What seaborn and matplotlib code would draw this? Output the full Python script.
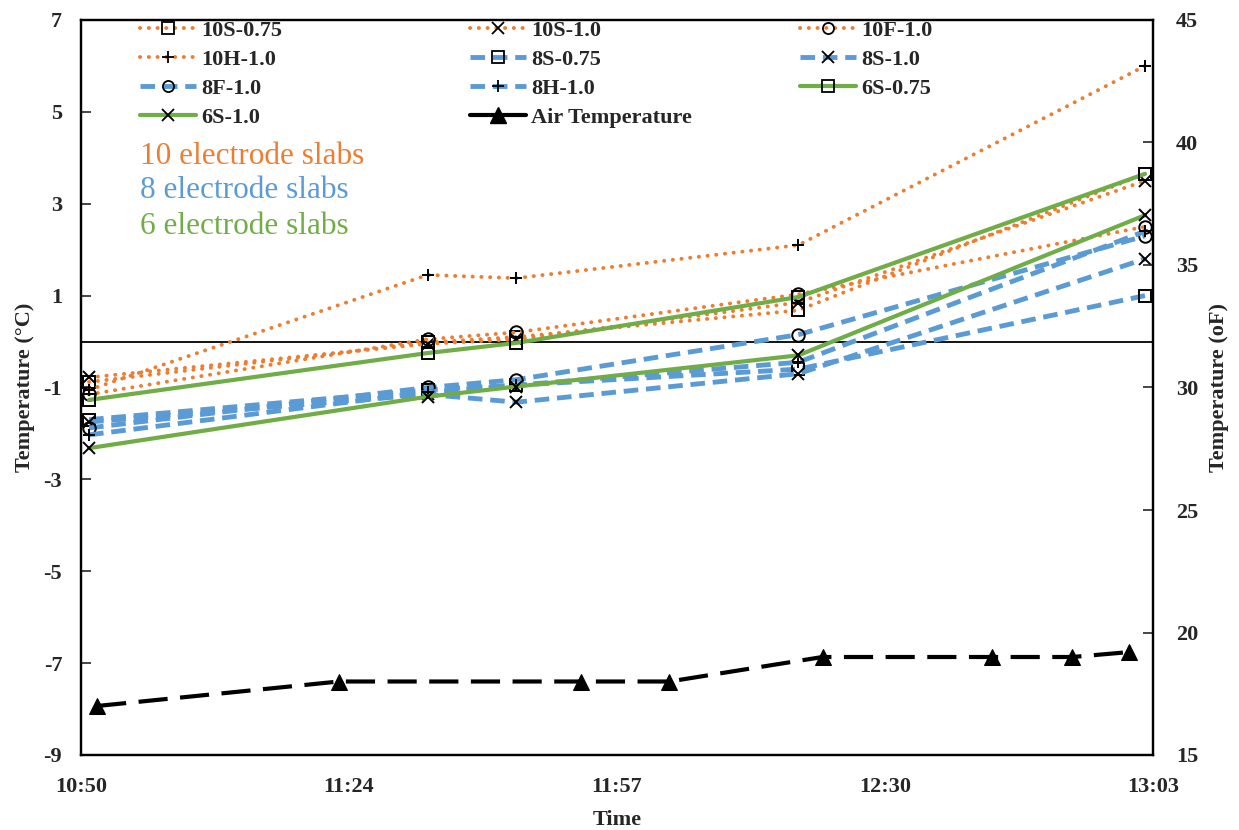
import numpy as np
import pandas as pd
import matplotlib
matplotlib.use("Agg")
import matplotlib.pyplot as plt
import seaborn as sns
from matplotlib.lines import Line2D

# ---------------- data ----------------
slab_times = ["10:51", "11:33", "11:44", "12:19", "13:02"]
air_times = ["10:52", "11:22", "11:52", "12:03", "12:22", "12:43", "12:53", "13:00"]

s10S_075 = [-0.88, -0.02, 0.10, 0.68, 3.65]
s10S_10 = [-0.78, -0.05, 0.05, 0.85, 3.50]
s10F_10 = [-1.15, 0.05, 0.20, 1.03, 2.50]
s10H_10 = [-1.05, 1.45, 1.38, 2.10, 6.00]
s8S_075 = [-1.70, -1.05, -0.95, -0.60, 1.00]
s8S_10 = [-1.75, -1.15, -1.32, -0.70, 1.80]
s8F_10 = [-1.88, -1.00, -0.83, 0.15, 2.30]
s8H_10 = [-2.03, -1.10, -0.95, -0.45, 2.40]
s6S_075 = [-1.27, -0.25, -0.03, 0.97, 3.65]
s6S_10 = [-2.32, -1.20, -0.98, -0.30, 2.75]
air_temp_F = [17.0, 18.0, 18.0, 18.0, 19.0, 19.0, 19.0, 19.2]

x_tick_labels = ["10:50", "11:24", "11:57", "12:30", "13:03"]
left_ticks = [-9, -7, -5, -3, -1, 1, 3, 5, 7]
right_ticks = [15, 20, 25, 30, 35, 40, 45]


def to_min(t):
    h, m = t.split(":")
    return (int(h) * 60 + int(m)) - (10 * 60 + 50)


series = [
    ("10S-0.75", s10S_075, "orange", "s"),
    ("10S-1.0", s10S_10, "orange", "x"),
    ("10F-1.0", s10F_10, "orange", "o"),
    ("10H-1.0", s10H_10, "orange", "+"),
    ("8S-0.75", s8S_075, "blue", "s"),
    ("8S-1.0", s8S_10, "blue", "x"),
    ("8F-1.0", s8F_10, "blue", "o"),
    ("8H-1.0", s8H_10, "blue", "+"),
    ("6S-0.75", s6S_075, "green", "s"),
    ("6S-1.0", s6S_10, "green", "x"),
]

rows = []
for name, vals, grp, mk in series:
    for t, v in zip(slab_times, vals):
        rows.append({"series": name, "minutes": to_min(t), "temp": v})
df = pd.DataFrame(rows)
air_df = pd.DataFrame({"minutes": [to_min(t) for t in air_times], "temp": air_temp_F})

# ---------------- style ----------------
sns.set_theme(style="white")
plt.rcParams["font.family"] = ["Liberation Serif", "DejaVu Serif"]
plt.rcParams["axes.unicode_minus"] = False

ORANGE = "#ED7D31"
BLUE = "#5B9BD5"
GREEN = "#70AD47"
grp_style = {
    "orange": dict(color=ORANGE, linestyle=(0, (0.05, 2.2)), linewidth=2.8, cap="round"),
    "blue": dict(color=BLUE, linestyle=(0, (3, 1.6)), linewidth=3.5, cap="butt"),
    "green": dict(color=GREEN, linestyle="-", linewidth=3.0, cap="butt"),
}

W, H = 1239, 830
fig = plt.figure(figsize=(W / 100, H / 100), dpi=100)
L, R, T, B = 81, 1153, 20, 755
ax = fig.add_axes([L / W, 1 - B / H, (R - L) / W, (B - T) / H])
ax2 = ax.twinx()

handles = {}
for name, vals, grp, mk in series:
    st = grp_style[grp]
    sub = df[df["series"] == name]
    sns.lineplot(data=sub, x="minutes", y="temp", ax=ax, color=st["color"],
                 linestyle=st["linestyle"], linewidth=st["linewidth"],
                 marker=mk, markersize=9, markeredgecolor="black",
                 markerfacecolor="none", markeredgewidth=1.4,
                 errorbar=None, legend=False, zorder=3)
    ax.lines[-1].set_dash_capstyle(st["cap"])
    h = Line2D([], [], color=st["color"], linestyle=st["linestyle"],
               linewidth=st["linewidth"], marker=mk, markersize=8,
               markeredgecolor="black", markerfacecolor="none",
               markeredgewidth=1.3)
    h.set_dash_capstyle(st["cap"])
    handles[name] = h

sns.lineplot(data=air_df, x="minutes", y="temp", ax=ax2, color="black",
             linestyle=(0, (7, 3)), linewidth=3.0, marker="^", markersize=12,
             markeredgecolor="black", markerfacecolor="black",
             errorbar=None, legend=False)
handles["Air Temperature"] = Line2D([], [], color="black", linestyle="-", linewidth=3.0,
                                    marker="^", markersize=11, markerfacecolor="black",
                                    markeredgecolor="black")

ax.axhline(0, color="black", linewidth=1.3, zorder=2)

# axes ranges and ticks
ax.set_xlim(0, 133)
ax.set_xticks(np.linspace(0, 133, 5))
ax.set_xticklabels(x_tick_labels)
ax.set_ylim(-9, 7)
ax.set_yticks(left_ticks)
ax2.set_ylim(15, 45)
ax2.set_yticks(right_ticks)

for lab in ax.get_xticklabels() + ax.get_yticklabels() + ax2.get_yticklabels():
    lab.set_fontsize(16)
    lab.set_fontweight("bold")
ax.tick_params(axis="x", length=0, pad=16)
ax.tick_params(axis="y", direction="in", length=7, width=1.2, pad=13.5, left=True)
ax2.tick_params(axis="y", direction="in", length=7, width=1.2, pad=16.5, right=True)

for a in (ax, ax2):
    for sp in a.spines.values():
        sp.set_color("black")
        sp.set_linewidth(1.6)
    a.grid(False)

ax.set_xlabel("Time", fontsize=16, fontweight="bold", labelpad=9)
ax.set_ylabel("Temperature (\u00b0C)", fontsize=16, fontweight="bold", labelpad=6)
ax2.set_ylabel("Temperature (oF)", fontsize=16, fontweight="bold", labelpad=8)

# legends: three columns placed individually
cols = [
    ["10S-0.75", "10H-1.0", "8F-1.0", "6S-1.0"],
    ["10S-1.0", "8S-0.75", "8H-1.0", "Air Temperature"],
    ["10F-1.0", "8S-1.0", "6S-0.75"],
]
col_x = [140, 470, 800]
for names, cx in zip(cols, col_x):
    fig.legend([handles[n] for n in names], names, loc="upper left",
               bbox_to_anchor=(cx / W, 1 - 20 / H), frameon=False,
               prop=dict(family=["Liberation Serif"], weight="bold", size=16),
               handlelength=2.5, handletextpad=0.25, labelspacing=0.38,
               borderpad=0, borderaxespad=0)

# annotations
fig.text(140 / W, 1 - 156 / H, "10 electrode slabs", color=ORANGE, fontsize=22.5,
         va="center", ha="left")
fig.text(140 / W, 1 - 191 / H, "8 electrode slabs", color=BLUE, fontsize=22.5,
         va="center", ha="left")
fig.text(140 / W, 1 - 227 / H, "6 electrode slabs", color=GREEN, fontsize=22.5,
         va="center", ha="left")

fig.savefig("out.png", dpi=100)
